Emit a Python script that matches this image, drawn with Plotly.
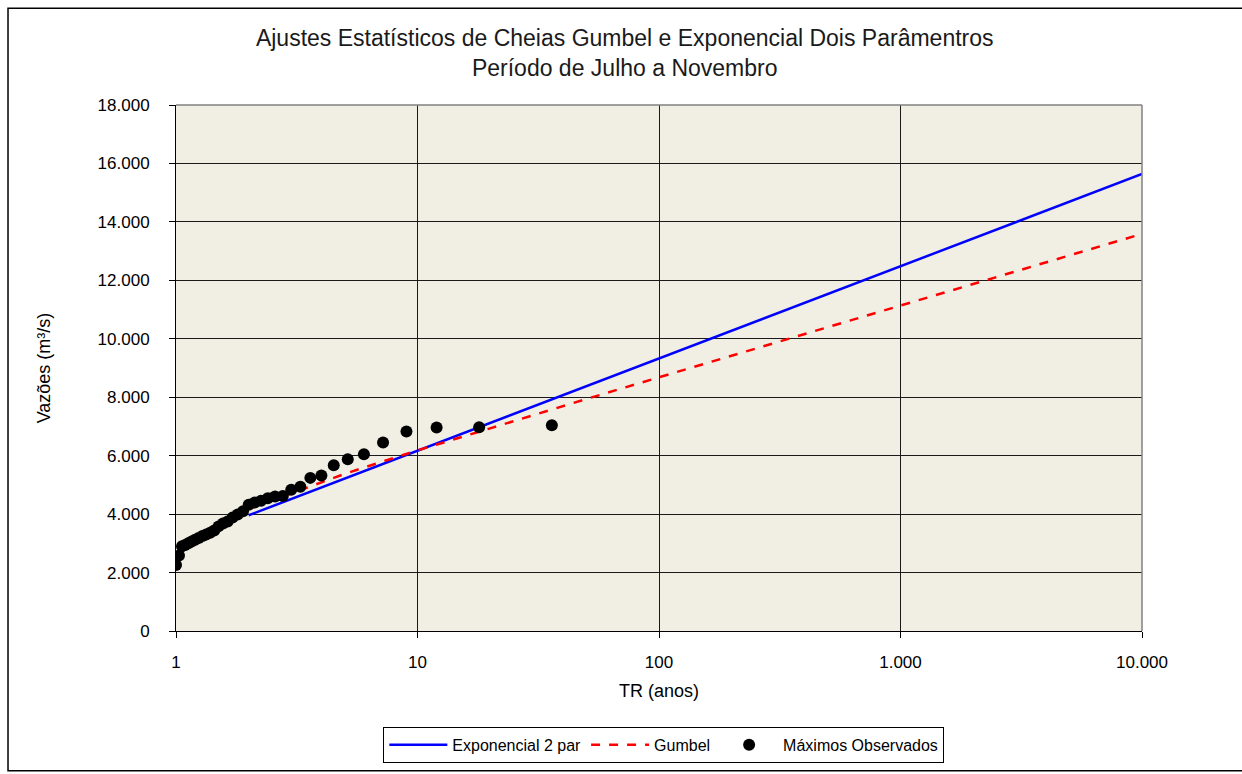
import plotly.graph_objects as go

# Observed maxima: return period TR (anos) and discharge (m3/s)
obs_tr = [36, 18, 12, 9, 7.2, 6, 5.143, 4.5, 4, 3.6, 3.273, 3, 2.769, 2.571, 2.4, 2.25,
          2.118, 2, 1.895, 1.8, 1.714, 1.636, 1.565, 1.5, 1.44, 1.385, 1.333, 1.286,
          1.241, 1.2, 1.161, 1.125, 1.091, 1.059, 1.029, 1.0]
obs_q = [7040, 6970, 6960, 6830, 6450, 6050, 5880, 5670, 5320, 5240, 4940, 4830, 4620,
         4600, 4540, 4460, 4400, 4320, 4100, 3990, 3880, 3750, 3680, 3580, 3440, 3360,
         3300, 3250, 3180, 3120, 3060, 3000, 2940, 2900, 2580, 2260]

# Exponencial 2 parâmetros fit
exp_tr = [2, 10, 100, 1000, 10000]
exp_q = [3960, 6170, 9330, 12490, 15640]

# Gumbel fit
gum_tr = [2, 5, 10, 20, 50, 100, 1000, 10000]
gum_q = [4170, 5380, 6180, 6946, 7938, 8682, 11136, 13590]

x_tickvals = [1, 10, 100, 1000, 10000]
y_tickvals = [0, 2000, 4000, 6000, 8000, 10000, 12000, 14000, 16000, 18000]

FONT = "Liberation Sans, Arial, sans-serif"

fig = go.Figure()
fig.add_trace(go.Scatter(x=exp_tr, y=exp_q, mode="lines", name="Exponencial 2 par",
                         line=dict(color="#0000FF", width=2.5)))
fig.add_trace(go.Scatter(x=gum_tr, y=gum_q, mode="lines", name="Gumbel",
                         line=dict(color="#FF0000", width=2.5, dash="dash")))
fig.add_trace(go.Scatter(x=obs_tr, y=obs_q, mode="markers", name="Máximos Observados",
                         marker=dict(color="#000000", size=12)))

fig.update_layout(
    width=1242, height=774,
    margin=dict(l=176, r=100, t=105, b=142),
    paper_bgcolor="white",
    plot_bgcolor="#F1EEE4",
    separators=",.",
    font=dict(family=FONT, color="#000000", size=16),
    title=dict(text="Ajustes Estatísticos de Cheias Gumbel e Exponencial Dois Parâmentros<br>Período de Julho a Novembro",
               x=0.503, xanchor="center", y=0.94, yanchor="top",
               font=dict(family=FONT, size=23, color="#1a1a1a")),
    xaxis=dict(type="log", range=[0, 4], tickvals=x_tickvals, tickformat=",d",
               showgrid=True, gridcolor="#1a1a1a", gridwidth=1,
               showline=True, linecolor="#000000", linewidth=1,
               ticks="outside", ticklen=6, tickcolor="#000000",
               ticklabelstandoff=10,
               title=dict(text="TR (anos)", font=dict(size=18), standoff=12),
               tickfont=dict(size=17), zeroline=False),
    yaxis=dict(range=[0, 18000], tickvals=y_tickvals, tickformat=",d",
               showgrid=True, gridcolor="#1a1a1a", gridwidth=1,
               showline=True, linecolor="#000000", linewidth=1,
               ticks="outside", ticklen=6, tickcolor="#000000",
               ticklabelstandoff=16,
               title=dict(text="Vazões (m³/s)", font=dict(size=18), standoff=42),
               tickfont=dict(size=17), zeroline=False),
    legend=dict(orientation="h", x=0.505, xanchor="center", y=-0.18, yanchor="top",
                bordercolor="#000000", borderwidth=1, bgcolor="white",
                font=dict(size=16), itemwidth=58),
    showlegend=True,
    shapes=[
        dict(type="rect", xref="paper", yref="paper", x0=-0.1739, x1=1.2, y0=-0.2657, y1=1.184,
             line=dict(color="#000000", width=1.5), layer="below"),
        dict(type="line", xref="paper", yref="paper", x0=0, x1=1, y0=1, y1=1,
             line=dict(color="#808080", width=1.5), layer="above"),
        dict(type="line", xref="paper", yref="paper", x0=1, x1=1, y0=0, y1=1,
             line=dict(color="#808080", width=1.5), layer="above"),
    ],
)

fig.write_html("out.html")
